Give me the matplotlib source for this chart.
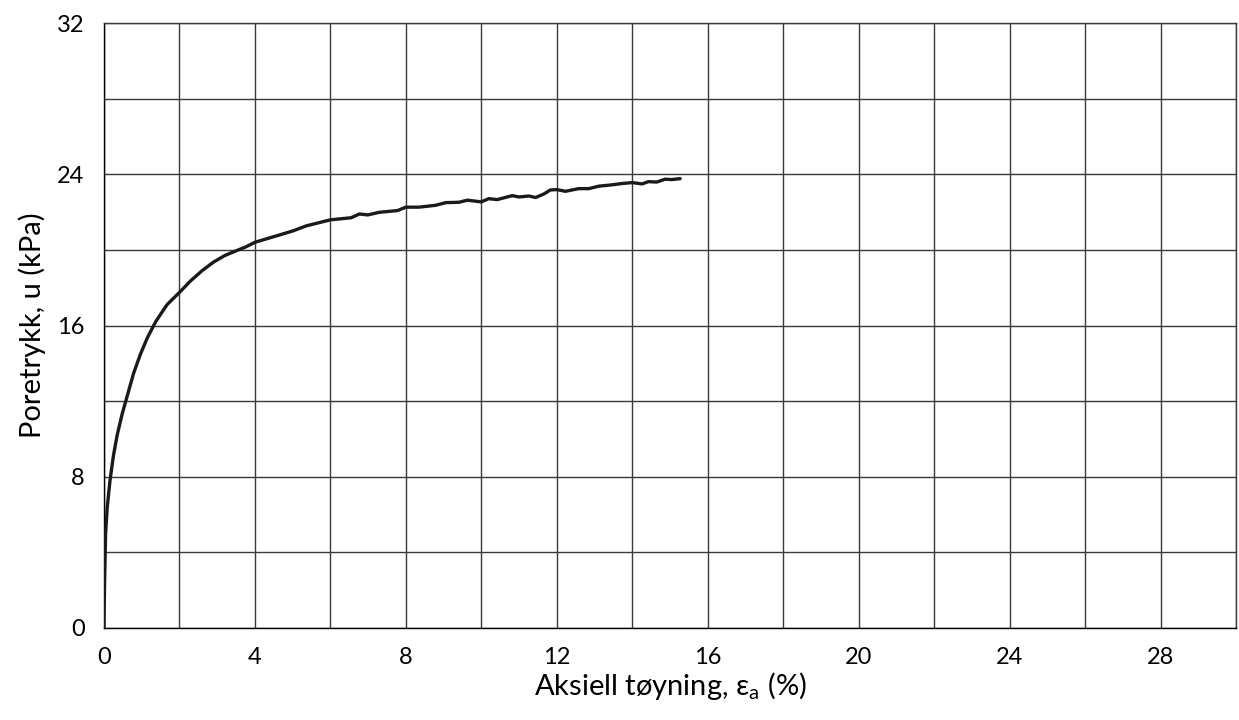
import numpy as np
import matplotlib.pyplot as plt

plt.rcParams['font.family'] = ['Lato', 'DejaVu Sans']
plt.rcParams['mathtext.fontset'] = 'custom'
plt.rcParams['mathtext.rm'] = 'Lato'

# axial strain (%) and pore pressure (kPa)
strain = [0.0, 0.005, 0.018, 0.044, 0.088, 0.16, 0.25, 0.35, 0.48, 0.62, 0.79,
          0.97, 1.15, 1.37, 1.67, 2.0, 2.29, 2.6, 2.9, 3.2, 3.5, 3.75, 4.0, 4.5,
          5.0, 5.36, 6.0, 6.55, 6.77, 6.99, 7.3, 7.78, 8.0, 8.35, 8.79, 9.06,
          9.41, 9.63, 10.0, 10.2, 10.42, 10.82, 11.0, 11.26, 11.44, 11.66, 11.83,
          12.0, 12.23, 12.58, 12.85, 13.11, 13.46, 13.72, 14.0, 14.26, 14.43,
          14.65, 14.87, 15.05, 15.27]
pressure = [0.0, 0.8, 2.56, 5.0, 6.4, 7.8, 9.1, 10.2, 11.3, 12.3, 13.5, 14.5,
            15.35, 16.2, 17.1, 17.75, 18.35, 18.9, 19.35, 19.7, 19.95, 20.15, 20.4,
            20.7, 21.0, 21.27, 21.59, 21.7, 21.9, 21.85, 21.99, 22.08, 22.26,
            22.26, 22.36, 22.5, 22.52, 22.63, 22.54, 22.71, 22.66, 22.87, 22.8,
            22.85, 22.77, 22.96, 23.17, 23.19, 23.1, 23.24, 23.24, 23.37, 23.44,
            23.51, 23.56, 23.49, 23.61, 23.59, 23.74, 23.72, 23.77]

x_ticks = [0, 4, 8, 12, 16, 20, 24, 28]
y_ticks = [0, 8, 16, 24, 32]

fig = plt.figure(figsize=(12.39, 7.2), dpi=100)
ax = fig.add_axes([0.0839, 0.1278, 0.9137, 0.8402])

ax.plot(strain, pressure, color='#1a1a1a', lw=2.4, zorder=3,
        solid_joinstyle='round', solid_capstyle='round')

ax.set_xlim(0, 30)
ax.set_ylim(0, 32)
ax.set_xticks(x_ticks)
ax.set_yticks(y_ticks)
ax.set_xticks(np.arange(0, 31, 2), minor=True)
ax.set_yticks(np.arange(0, 33, 4), minor=True)
ax.grid(True, which='both', color='#3a3a3a', lw=1.0)
ax.tick_params(which='both', length=0, labelsize=17, pad=14)
for s in ax.spines.values():
    s.set_color('#3a3a3a')
    s.set_linewidth(1.0)
ax.spines['left'].set_color('black')
ax.spines['bottom'].set_color('black')

ax.set_xlabel(u'Aksiell tøyning, \u03b5$_\\mathregular{a}$ (%)', fontsize=21, labelpad=1)
ax.set_ylabel('Poretrykk, u (kPa)', fontsize=21, labelpad=8)

fig.savefig('out.png', dpi=100)
